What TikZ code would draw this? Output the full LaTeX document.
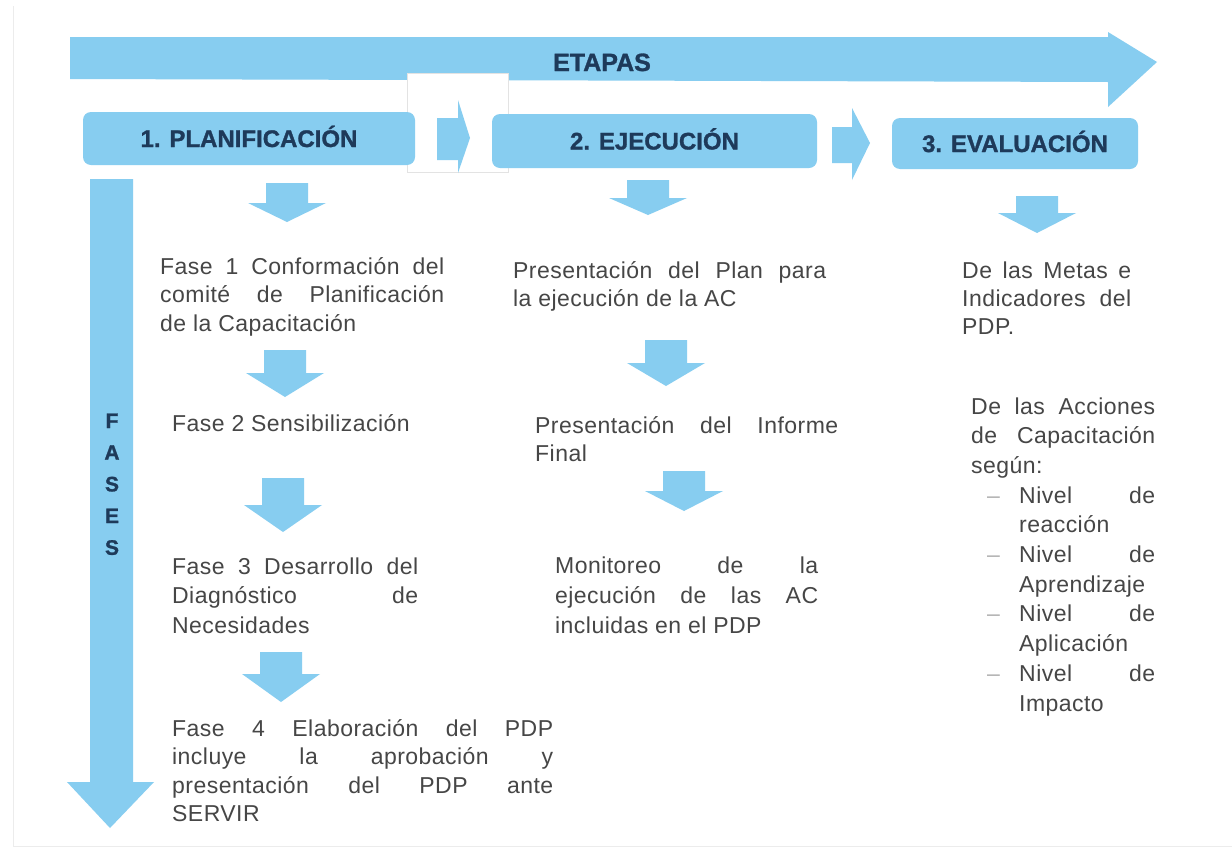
\documentclass[tikz,border=0pt]{standalone}
\usepackage{fontspec}
\setmainfont{Liberation Sans}
\newfontfamily\bodyf[LetterSpace=2]{Liberation Sans}
\newfontfamily\headf[BoldFeatures={FakeBold=1.2}]{Liberation Sans}
\definecolor{skyfill}{RGB}{135,205,240}
\definecolor{navy}{RGB}{30,58,90}
\definecolor{bodygray}{RGB}{70,70,70}
\newcommand{\jline}[2]{\makebox[#1pt][s]{#2}}
\newcommand{\dnarrow}[4]{%
  \fill[skyfill] (#1-21,#2) -- (#1+21,#2) -- (#1+21,#3) -- (#1+39,#3) -- (#1,#4) -- (#1-39,#3) -- (#1-21,#3) -- cycle;}
\newcommand{\bul}[1]{\hspace*{16pt}\makebox[32pt][l]{\textcolor{gray!60}{–}}\makebox[136pt][s]{#1}}
\tikzset{
  stagebox/.style={fill=skyfill, rounded corners=8pt, inner sep=0pt, text=navy,
    font=\headf\bfseries\fontsize{24}{28}\selectfont, text height=17pt, text depth=0pt},
  headtext/.style={inner sep=0pt, text=navy,
    font=\headf\bfseries\fontsize{25}{28}\selectfont, text height=18pt, text depth=0pt},
  bodytext/.style={anchor=base west, inner sep=0pt, text=bodygray}
}
\begin{document}
\begin{tikzpicture}[x=1pt,y=-1pt]
\useasboundingbox (0,0) rectangle (1232,849);
\fill[white] (0,0) rectangle (1232,849);
% faint scan borders
\draw[gray!15, line width=1pt] (13,6) -- (13,846) -- (1232,846);
% ETAPAS arrow
\fill[skyfill] (70,37) -- (1108,37) -- (1108,32) -- (1157,62) -- (1108,107) -- (1108,82) -- (70,79) -- cycle;
\node[headtext] (etapas) at (602,62) {ETAPAS};
% white overlay patch
\filldraw[fill=white, draw=gray!22, line width=0.6pt] (407,73) rectangle (508,172);
% stage boxes
\node[stagebox, minimum width=332pt, minimum height=53pt] (p1) at (249,138.5) {1. PLANIFICACIÓN};
\node[stagebox, minimum width=325pt, minimum height=54pt] (p2) at (654.5,141) {2. EJECUCIÓN};
\node[stagebox, minimum width=246pt, minimum height=51pt] (p3) at (1015,143.5) {3. EVALUACIÓN};
% arrows between stages
\fill[skyfill] (437,118) -- (458,118) -- (458,100) -- (470,138) -- (458,173) -- (458,160) -- (437,160) -- cycle;
\fill[skyfill] (832,127) -- (852,127) -- (852,108) -- (870,143) -- (852,180) -- (852,163) -- (832,163) -- cycle;
% FASES arrow
\fill[skyfill] (90,179) -- (133,179) -- (133,782) -- (154,782) -- (110,828) -- (67,782) -- (90,782) -- cycle;
\node[anchor=base, inner sep=0pt, text=navy, font=\headf\bfseries\fontsize{21}{31.7}\selectfont] (fases) at (112,428)
  {\parbox[t]{30pt}{\centering F\\A\\S\\E\\S}};
% small down arrows
\dnarrow{287}{183}{203}{222}
\dnarrow{285}{350}{373}{397}
\dnarrow{283}{478}{505}{532}
\dnarrow{281}{652}{674}{702}
\dnarrow{648}{180}{198}{215}
\dnarrow{666}{340}{363}{386}
\dnarrow{684}{471}{491}{511}
\dnarrow{1037}{196}{213}{233}
% column 1 texts
\node[bodytext, font=\bodyf\fontsize{23}{28.5}\selectfont] (f1) at (160,274)
  {\parbox[t]{320pt}{\jline{284}{Fase 1 Conformación del}\\\jline{284}{comité de Planificación}\\de la Capacitación}};
\node[bodytext, font=\bodyf\fontsize{23}{28.5}\selectfont] (f2) at (172,431) {Fase 2 Sensibilización};
\node[bodytext, font=\bodyf\fontsize{23}{29.5}\selectfont] (f3) at (172,574)
  {\parbox[t]{300pt}{\jline{246}{Fase 3 Desarrollo del}\\\jline{246}{Diagnóstico de}\\Necesidades}};
\node[bodytext, font=\bodyf\fontsize{23}{28.5}\selectfont] (f4) at (172,736)
  {\parbox[t]{420pt}{\jline{381}{Fase 4 Elaboración del PDP}\\\jline{381}{incluye la aprobación y}\\\jline{381}{presentación del PDP ante}\\SERVIR}};
% column 2 texts
\node[bodytext, font=\bodyf\fontsize{23}{28}\selectfont] (e1) at (513,278)
  {\parbox[t]{350pt}{\jline{313}{Presentación del Plan para}\\la ejecución de la AC}};
\node[bodytext, font=\bodyf\fontsize{23}{28}\selectfont] (e2) at (535,433)
  {\parbox[t]{350pt}{\jline{303}{Presentación del Informe}\\Final}};
\node[bodytext, font=\bodyf\fontsize{23}{30}\selectfont] (e3) at (555,573)
  {\parbox[t]{300pt}{\jline{263}{Monitoreo de la}\\\jline{263}{ejecución de las AC}\\incluidas en el PDP}};
% column 3 texts
\node[bodytext, font=\bodyf\fontsize{23}{28}\selectfont] (v1) at (962,278)
  {\parbox[t]{220pt}{\jline{169}{De las Metas e}\\\jline{169}{Indicadores del}\\PDP.}};
\node[bodytext, font=\bodyf\fontsize{23}{29.7}\selectfont] (v2) at (971,414)
  {\parbox[t]{240pt}{\jline{184}{De las Acciones}\\\jline{184}{de Capacitación}\\según:\\
   \bul{Nivel de}\\\hspace*{48pt}reacción\\
   \bul{Nivel de}\\\hspace*{48pt}Aprendizaje\\
   \bul{Nivel de}\\\hspace*{48pt}Aplicación\\
   \bul{Nivel de}\\\hspace*{48pt}Impacto}};
\end{tikzpicture}
\end{document}
